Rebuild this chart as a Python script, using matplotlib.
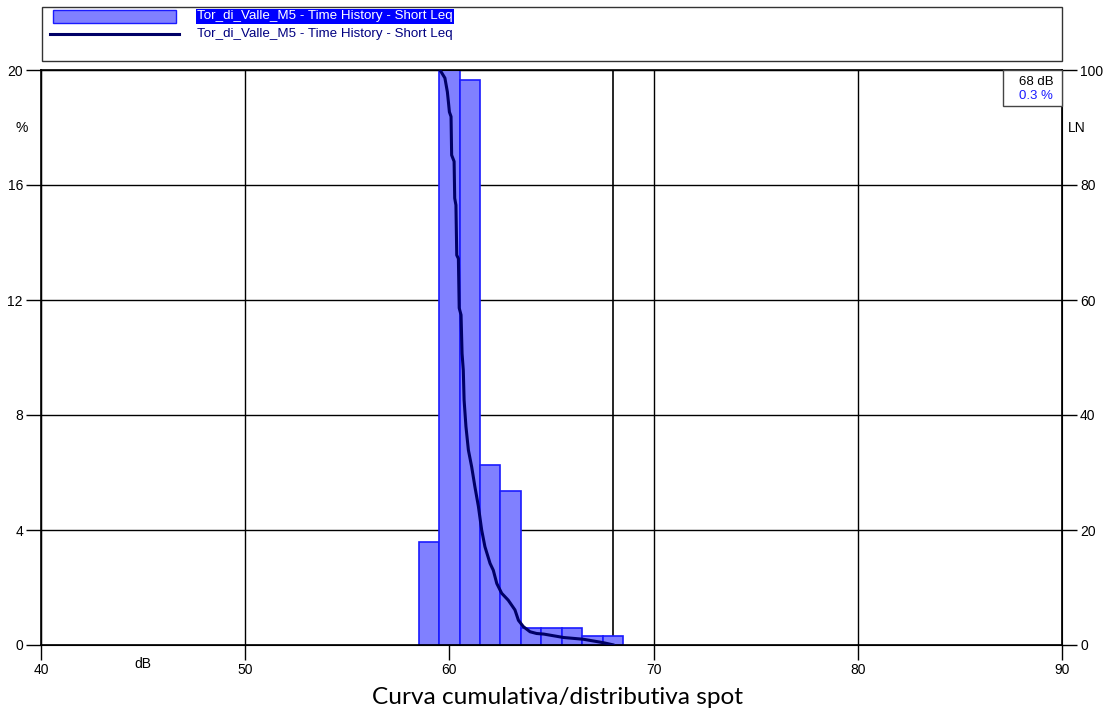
import matplotlib
matplotlib.use("Agg")
import matplotlib.pyplot as plt
from matplotlib.patches import Rectangle
from matplotlib.lines import Line2D

plt.rcParams['font.family'] = ['Liberation Sans', 'DejaVu Sans']

# Level distribution (1 dB classes) in percent
levels_db = [59, 60, 61, 62, 63, 64, 65, 66, 67, 68]
percent = [3.58, 21.0, 19.64, 6.26, 5.35, 0.59, 0.59, 0.59, 0.31, 0.31]

# Cumulative exceedance curve LN (%)
curve_db = [59.54, 59.78, 59.90, 59.95, 60.00, 60.08, 60.11, 60.23, 60.26, 60.32,
            60.36, 60.44, 60.48, 60.57, 60.62, 60.68, 60.72, 60.81, 60.93, 61.09,
            61.25, 61.42, 61.58, 61.74, 61.99, 62.15, 62.32, 62.56, 62.88, 63.21,
            63.38, 63.62, 63.95, 64.27, 64.62, 65.60, 66.56, 67.54, 68.05]
curve_ln = [100.0, 98.6, 96.2, 94.5, 92.7, 91.9, 85.2, 84.1, 77.7, 76.5,
            67.8, 67.2, 58.6, 57.4, 50.7, 47.8, 42.6, 38.0, 33.9, 31.0,
            27.5, 24.1, 20.0, 17.1, 14.2, 13.0, 10.7, 9.0, 7.8, 6.1,
            4.3, 3.2, 2.3, 2.0, 1.9, 1.3, 1.0, 0.4, 0.0]

x_ticks = [40, 50, 60, 70, 80, 90]
y_ticks = [0, 4, 8, 12, 16, 20]
ln_ticks = [0, 20, 40, 60, 80, 100]

cursor_db = 68
cursor_pct = 0.3
series_name = "Tor_di_Valle_M5 - Time History - Short Leq"
chart_title = "Curva cumulativa/distributiva spot"

BAR_FACE = "#8080ff"
BAR_EDGE = "#1a1aff"
CURVE = "#000066"

W, H = 1105, 713
fig = plt.figure(figsize=(W / 100, H / 100), dpi=100)

L, R, T, B = 41, 1062, 70, 645
ax = fig.add_axes([L / W, 1 - B / H, (R - L) / W, (B - T) / H])
ax.set_xlim(40, 90)
ax.set_ylim(0, 20)

ax.bar(levels_db, percent, width=1.0, color=BAR_FACE, edgecolor=BAR_EDGE,
       linewidth=1.2, zorder=2)

ax.set_xticks(x_ticks)
ax.set_yticks(y_ticks)
ax.grid(True, color="black", linewidth=1.0, zorder=1)
ax.set_axisbelow(True)
ax.axvline(cursor_db, color="black", linewidth=1.2, zorder=1.5)
for s in ax.spines.values():
    s.set_linewidth(1.2)
ax.tick_params(axis='both', direction='out', length=11, width=1.0,
               labelsize=10, colors='black')
ax.tick_params(axis='x', pad=2)
ax.tick_params(axis='y', pad=2)

ax2 = ax.twinx()
ax2.set_ylim(0, 100)
ax2.set_yticks(ln_ticks)
ax2.tick_params(axis='y', direction='out', length=11, width=1.0,
                labelsize=10, pad=2)
ax2.plot(curve_db, curve_ln, color=CURVE, linewidth=2.2, zorder=3,
         solid_joinstyle='round', solid_capstyle='round')

fig.text(22 / W, 1 - 128 / H, "%", ha='center', va='center', fontsize=10)
fig.text(1077 / W, 1 - 128 / H, "LN", ha='center', va='center', fontsize=10)
fig.text(143 / W, 1 - 664 / H, "dB", ha='center', va='center', fontsize=10)

# overlay in figure pixel coordinates for the legend, readout box and caption
ov = fig.add_axes([0, 0, 1, 1], facecolor='none')
ov.set_xlim(0, W)
ov.set_ylim(H, 0)
ov.axis('off')

# cursor readout box
ov.add_patch(Rectangle((1003, 70), 59, 36, facecolor='white',
                       edgecolor='#444444', linewidth=1.0, zorder=5))
ov.text(1036, 82, f"{cursor_db} dB", ha='center', va='center', fontsize=9.5,
        color='black', zorder=6)
ov.text(1036, 96, f"{cursor_pct} %", ha='center', va='center', fontsize=9.5,
        color='#1a1aff', zorder=6)

# legend frame
ov.add_patch(Rectangle((42, 7), R - 42, 54, facecolor='white',
                       edgecolor='#333333', linewidth=1.0, zorder=4))
ov.add_patch(Rectangle((53, 10), 123, 13, facecolor=BAR_FACE,
                       edgecolor=BAR_EDGE, linewidth=1.0, zorder=5))
ov.add_line(Line2D([50, 179], [34, 34], color=CURVE, linewidth=2.2, zorder=5))
ov.text(197, 16.5, series_name, ha='left', va='center', fontsize=9.6,
        color='white', zorder=6,
        bbox=dict(boxstyle='square,pad=0.1', fc='#0000ff', ec='none'))
ov.text(197, 34.5, series_name, ha='left', va='center', fontsize=9.6,
        color='#000080', zorder=6)

ov.text(557, 698, chart_title, ha='center', va='center',
        fontsize=17.6, family=['Lato', 'DejaVu Sans'])

fig.savefig("out.png", dpi=100)
